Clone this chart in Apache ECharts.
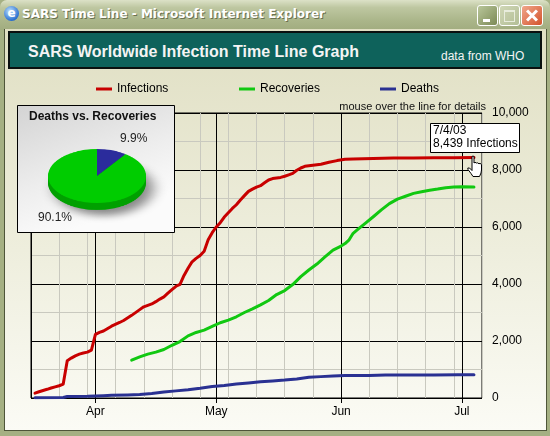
<!DOCTYPE html>
<html>
<head>
<meta charset="utf-8">
<script src="https://cdn.jsdelivr.net/npm/echarts@6/dist/echarts.min.js"></script>
<style>
  body { margin: 0; background: #fff; }
  #win { position: relative; width: 550px; height: 436px; overflow: hidden; background: #A5B083; }
  #tb { position: absolute; left: 0; top: 0; width: 550px; height: 30px;
        background: linear-gradient(#DCE1C7, #BEC7A1 25%, #AAB589 70%, #A1AC7F); border-radius: 7px 7px 0 0; }
  #ttl { position: absolute; left: 22px; top: 7px; font: bold 12px "DejaVu Sans"; color: #fff;
         text-shadow: 1px 1px 0 #6A7150; white-space: nowrap; }
  #ico { position: absolute; left: 4px; top: 6px; width: 15px; height: 15px; border-radius: 50%;
         background: radial-gradient(circle at 40% 35%, #BFE3FF, #2A6FD0 70%, #1A4C9A);
         color: #fff; font: bold 12px "DejaVu Sans"; line-height: 14px; text-align: center; }
  .btn { position: absolute; top: 5px; width: 19px; height: 19px; border: 1px solid #fff; border-radius: 3px; box-sizing: content-box; }
  #bmin { left: 477px; background: linear-gradient(135deg, #B9C69A, #7C8A56); }
  #bmin::after { content: ""; position: absolute; left: 5px; top: 13px; width: 7px; height: 3px; background: #fff; }
  #bmax { left: 499px; background: linear-gradient(135deg, #D0D7B6, #B3BE96); }
  #bmax::after { content: ""; position: absolute; left: 4px; top: 4px; width: 9px; height: 9px; border: 1px solid #E8ECDC; border-top-width: 2px; }
  #bcls { left: 521px; width: 20px; background: linear-gradient(135deg, #F0A78B, #D4532C); }
  #bcls::before, #bcls::after { content: ""; position: absolute; left: 3px; top: 8px; width: 14px; height: 3px; background: #fff; }
  #bcls::before { transform: rotate(45deg); }
  #bcls::after { transform: rotate(-45deg); }
  #ct { position: absolute; left: 4px; top: 29px; width: 541px; height: 401px; border: 1px solid #4E5539; border-top: none;
        background: linear-gradient(#E0DFC3, #EEEEDD 55%, #FBFBF5); }
  #bn { position: absolute; left: 8px; top: 31px; width: 530px; height: 34px; border: 2px solid #0A100F; background: #0E625B; }
  #bt { position: absolute; left: 28px; top: 42px; font: bold 16px "Liberation Sans"; color: #F4F4F4; line-height: 19px; white-space: nowrap; }
  #bw { position: absolute; left: 441px; top: 49px; font: 12px "Liberation Sans"; color: #F4F4F4; line-height: 14px; white-space: nowrap; }
  #c { position: absolute; left: 0; top: 0; width: 550px; height: 436px; }
  #p { position: absolute; left: 37px; top: 116px; width: 140px; height: 150px; transform: scaleY(0.551); transform-origin: 60px 60px; }
</style>
</head>
<body>
<div id="win">
  <div id="tb"></div>
  <div id="ico">e</div>
  <div id="ttl">SARS Time Line - Microsoft Internet Explorer</div>
  <div class="btn" id="bmin"></div>
  <div class="btn" id="bmax"></div>
  <div class="btn" id="bcls"></div>
  <div id="ct"></div>
  <div id="bn"></div>
  <div id="bt">SARS Worldwide Infection Time Line Graph</div>
  <div id="bw">data from WHO</div>
  <div id="c"></div>
  <div id="p"></div>
</div>
<script>
// ---- data (month/day, 2003) ----
const infectionDates = ['3/17','3/18','3/19','3/20','3/21','3/22','3/23','3/24','3/25','3/26','3/27','3/28','3/29','3/30','3/31',
  '4/1','4/2','4/3','4/5','4/7','4/8','4/10','4/12','4/13',
  '4/15','4/16','4/17','4/18','4/19','4/20','4/21','4/22','4/23','4/24','4/25','4/26','4/27','4/28','4/29','4/30',
  '5/1','5/2','5/3','5/4','5/5','5/6','5/7','5/8','5/9','5/10','5/11','5/12','5/13','5/14','5/15',
  '5/17','5/18','5/19','5/20','5/21','5/22','5/23','5/25','5/27','5/29','5/31',
  '6/2','6/4','6/9','6/14','6/19','6/24','6/29','7/4'];
const infections = [170,220,265,305,350,390,430,490,1310,1400,1480,1540,1580,1610,1680,
  2230,2300,2350,2520,2650,2720,2900,3100,3200,
  3300,3380,3470,3550,3680,3800,3920,3990,4300,4550,4780,4900,5000,5150,5550,5800,
  6000,6150,6350,6500,6650,6780,6950,7100,7250,7330,7400,7450,7550,7650,7700,
  7740,7780,7830,7880,7990,8070,8130,8170,8200,8270,8330,
  8380,8390,8400,8420,8420,8430,8430,8439];

const recoveryDates = ['4/10','4/12','4/14','4/16','4/18','4/20','4/22','4/24','4/26','4/28','4/30',
  '5/2','5/4','5/6','5/8','5/10','5/12','5/14','5/16','5/18','5/20','5/22','5/24','5/26','5/28','5/30',
  '6/1','6/2','6/3','6/4','6/5',
  '6/7','6/9','6/11','6/13','6/15','6/17','6/19','6/21','6/23','6/25','6/27','6/29','7/1','7/4'];
const recoveries = [1330,1440,1540,1610,1700,1850,1980,2180,2300,2380,2510,
  2640,2735,2850,3000,3130,3270,3420,3630,3770,3980,4260,4490,4700,4950,5190,
  5330,5420,5550,5780,5900,
  6130,6360,6600,6820,6980,7080,7180,7240,7290,7330,7380,7400,7410,7400];

const deathDates = ['3/17','3/24','3/25','3/26','3/30','4/1','4/3','4/5','4/9','4/12','4/15','4/18','4/21','4/24','4/27','4/30',
  '5/3','5/6','5/9','5/12','5/15','5/18','5/21','5/24','5/27','5/30','6/2','6/8','6/12','6/18','6/24','6/30','7/4'];
const deaths = [10,20,50,55,60,70,80,95,105,120,160,210,250,290,340,400,
  440,490,530,570,600,630,670,730,750,770,790,790,805,810,810,812,812];

const monthTickDates = ['4/1','5/1','6/1','7/1'];
const monthLabels = ['Apr','May','Jun','Jul'];
const axisStartDate = '3/16';
const axisEndDate = '7/6';
const yMax = 10000;
const yStep = 2000;

// ---- helpers ----
function dayOf(md) {
  const p = md.split('/').map(Number);
  const s = axisStartDate.split('/').map(Number);
  return Math.round((Date.UTC(2003, p[0] - 1, p[1]) - Date.UTC(2003, s[0] - 1, s[1])) / 86400000);
}
function pairs(dates, vals) { return dates.map((d, i) => [dayOf(d), vals[i]]); }
const monthDays = monthTickDates.map(dayOf);
const FONT = '"Liberation Sans", Arial, sans-serif';

const lastDeaths = deaths[deaths.length - 1];
const lastRec = recoveries[recoveries.length - 1];
const pctDeaths = (lastDeaths / (lastDeaths + lastRec) * 100).toFixed(1) + '%';
const pctRec = (lastRec / (lastDeaths + lastRec) * 100).toFixed(1) + '%';
const lastInfDate = infectionDates[infectionDates.length - 1] + '/03';
const lastInf = infections[infections.length - 1].toLocaleString('en-US') + ' Infections';

const RED = '#C80000', GREEN = '#11C811', BLUE = '#2A3192';
const MINOR = '#C9C9BF';

const chart = echarts.init(document.getElementById('c'), null, { renderer: 'canvas' });
function lineSeries(name, data, color) {
  return {
    name, type: 'line', data, xAxisIndex: 0, yAxisIndex: 0,
    showSymbol: false, symbol: 'none', smooth: false, z: 3, silent: true,
    itemStyle: { color }, lineStyle: { color, width: 3, cap: 'round', join: 'round' }
  };
}
const legendBase = {
  icon: 'rect', itemWidth: 16, itemHeight: 3, itemGap: 0, top: 83, padding: 0, selectedMode: false,
  textStyle: { fontSize: 12, color: '#000', fontFamily: FONT }
};
const handPts = [[5,1],[5.5,0],[6.5,0],[7,1],[7,7],[8,6.3],[9.5,7],[10.5,6.8],[12,7.8],[13,7.3],[14.5,8.5],
  [14.5,14],[14,17],[12.5,20.5],[6,20.5],[4,17.5],[1,13.5],[0.8,12],[2.5,12],[5,14.5]];
chart.setOption({
  animation: false,
  textStyle: { fontFamily: FONT },
  grid: { left: 31, top: 113, width: 451, height: 285, show: true, borderColor: '#000', borderWidth: 1,
          backgroundColor: 'transparent', containLabel: false },
  legend: [
    Object.assign({}, legendBase, { data: ['Infections'], left: 96 }),
    Object.assign({}, legendBase, { data: ['Recoveries'], left: 239 }),
    Object.assign({}, legendBase, { data: ['Deaths'], left: 380 })
  ],
  xAxis: [
    { type: 'value', min: 0, max: dayOf(axisEndDate), interval: 7,
      axisLine: { show: false }, axisTick: { show: false }, axisLabel: { show: false },
      splitLine: { show: true, lineStyle: { color: MINOR, width: 1 } } },
    { type: 'value', position: 'bottom', min: 0, max: dayOf(axisEndDate),
      axisLine: { show: false },
      axisTick: { show: true, customValues: monthDays, length: 5, lineStyle: { color: '#000' } },
      axisLabel: { show: true, customValues: monthDays, fontSize: 12, color: '#000', margin: 8,
                   formatter: v => monthLabels[monthDays.indexOf(v)] },
      splitLine: { show: true, lineStyle: { color: '#000', width: 1 } } }
  ],
  yAxis: {
    type: 'value', position: 'right', min: 0, max: yMax, interval: yStep,
    axisLine: { show: true, lineStyle: { color: '#000' } },
    axisTick: { show: true, length: 5, lineStyle: { color: '#000' } },
    axisLabel: { color: '#000', fontSize: 12, margin: 10 },
    splitLine: { show: true, lineStyle: { color: '#000', width: 1 } },
    minorTick: { show: false, splitNumber: 2 },
    minorSplitLine: { show: true, lineStyle: { color: MINOR, width: 1 } }
  },
  series: [
    lineSeries('Infections', pairs(infectionDates, infections), RED),
    lineSeries('Recoveries', pairs(recoveryDates, recoveries), GREEN),
    lineSeries('Deaths', pairs(deathDates, deaths), BLUE)
  ],
  graphic: [
    { type: 'text', z: 50, x: 486, y: 107,
      style: { text: 'mouse over the line for details', font: '11px ' + FONT, fill: '#111', align: 'right', verticalAlign: 'middle' } },
    { type: 'rect', z: 100, shape: { x: 17.5, y: 105.5, width: 157, height: 127 },
      style: { fill: { type: 'linear', x: 0, y: 0, x2: 0.3, y2: 1,
                       colorStops: [{ offset: 0, color: '#D3D3D3' }, { offset: 0.6, color: '#EDEDED' }, { offset: 1, color: '#FBFBFB' }] },
               stroke: '#000', lineWidth: 1 } },
    { type: 'text', z: 101, x: 29, y: 117,
      style: { text: 'Deaths vs. Recoveries', font: 'bold 12px ' + FONT, fill: '#111', verticalAlign: 'middle' } },
    { type: 'text', z: 101, x: 120, y: 139,
      style: { text: pctDeaths, font: '12px ' + FONT, fill: '#222', verticalAlign: 'middle' } },
    { type: 'text', z: 101, x: 38, y: 218,
      style: { text: pctRec, font: '12px ' + FONT, fill: '#222', verticalAlign: 'middle' } },
    { type: 'rect', z: 100, shape: { x: 430.5, y: 123.5, width: 89, height: 29 },
      style: { fill: '#fff', stroke: '#000', lineWidth: 1 } },
    { type: 'text', z: 101, x: 433, y: 131,
      style: { text: lastInfDate, font: '12px ' + FONT, fill: '#000', verticalAlign: 'middle' } },
    { type: 'text', z: 101, x: 433, y: 144,
      style: { text: lastInf, font: '12px ' + FONT, fill: '#000', verticalAlign: 'middle' } },
    { type: 'polygon', z: 102, x: 467, y: 156,
      shape: { points: handPts },
      style: { fill: '#fff', stroke: '#000', lineWidth: 1 } }
  ]
});

// ---- inset pie (tilted by CSS scaleY) ----
const pie = echarts.init(document.getElementById('p'), null, { renderer: 'canvas' });
const rimOffsets = [12.7, 10.5, 8, 5.5, 3];
function pieLayer(dy, cDeaths, cRec, shadow) {
  return {
    type: 'pie', center: [60, 60 + dy], radius: 49, startAngle: 90, clockwise: true, silent: true,
    label: { show: false }, labelLine: { show: false },
    itemStyle: Object.assign({ borderWidth: 0 }, shadow ? { shadowBlur: 14, shadowColor: 'rgba(0,0,0,0.45)', shadowOffsetX: 7, shadowOffsetY: 10 } : {}),
    data: [
      { name: 'Deaths', value: lastDeaths, itemStyle: { color: cDeaths } },
      { name: 'Recoveries', value: lastRec, itemStyle: { color: cRec } }
    ]
  };
}
pie.setOption({
  animation: false,
  series: rimOffsets.map((d, i) => pieLayer(d, '#1B1D6E', '#00A000', i === 0))
    .concat([pieLayer(0, '#2B2C9C', '#00CC00', false)])
});
</script>
</body>
</html>
